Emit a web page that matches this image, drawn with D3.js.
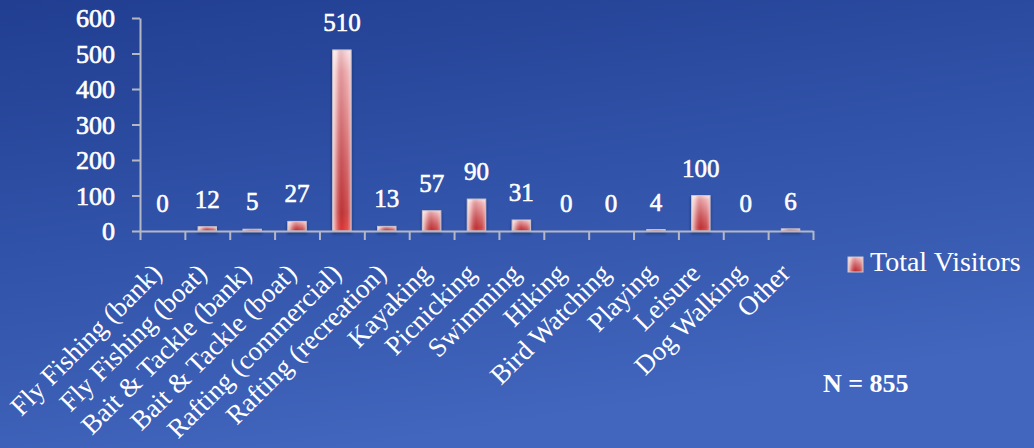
<!DOCTYPE html>
<html>
<head>
<meta charset="utf-8">
<script src="https://cdn.jsdelivr.net/npm/d3@7"></script>
<style>
  html, body { margin: 0; padding: 0; background: #2f4fa3; }
  svg { display: block; }
</style>
</head>
<body>
<svg id="chart" width="1034" height="448"></svg>
<script>
const categories = [
  "Fly Fishing (bank)", "Fly Fishing (boat)", "Bait & Tackle (bank)", "Bait & Tackle (boat)",
  "Rafting (commercial)", "Rafting (recreation)", "Kayaking", "Picnicking", "Swimming",
  "Hiking", "Bird Watching", "Playing", "Leisure", "Dog Walking", "Other"
];
const totalVisitors = [0, 12, 5, 27, 510, 13, 57, 90, 31, 0, 0, 4, 100, 0, 6];
const yTicks = [0, 100, 200, 300, 400, 500, 600];
const seriesName = "Total Visitors";
const noteText = "N = 855";

const W = 1034, H = 448;
const svg = d3.select("#chart");
const defs = svg.append("defs");

// background gradient
const bg = defs.append("linearGradient").attr("id", "bg")
  .attr("x1", "0").attr("y1", "0").attr("x2", "0.35").attr("y2", "1");
bg.append("stop").attr("offset", "0").attr("stop-color", "#213e91");
bg.append("stop").attr("offset", "0.5").attr("stop-color", "#3052a8");
bg.append("stop").attr("offset", "1").attr("stop-color", "#4265bd");
svg.append("rect").attr("width", W).attr("height", H).attr("fill", "url(#bg)");

// bar gradients
const gv = defs.append("linearGradient").attr("id", "barV")
  .attr("x1", "0").attr("y1", "0").attr("x2", "0").attr("y2", "1");
gv.append("stop").attr("offset", "0").attr("stop-color", "#f8dadc");
gv.append("stop").attr("offset", "0.12").attr("stop-color", "#eeaaad");
gv.append("stop").attr("offset", "0.6").attr("stop-color", "#d25e62");
gv.append("stop").attr("offset", "0.9").attr("stop-color", "#c6383a");
gv.append("stop").attr("offset", "1").attr("stop-color", "#e53c3a");
const gh = defs.append("linearGradient").attr("id", "barH")
  .attr("x1", "0").attr("y1", "0").attr("x2", "1").attr("y2", "0");
gh.append("stop").attr("offset", "0").attr("stop-color", "#ffffff").attr("stop-opacity", 0.8);
gh.append("stop").attr("offset", "0.22").attr("stop-color", "#ffffff").attr("stop-opacity", 0.3);
gh.append("stop").attr("offset", "0.5").attr("stop-color", "#7a0d12").attr("stop-opacity", 0.1);
gh.append("stop").attr("offset", "0.8").attr("stop-color", "#ffffff").attr("stop-opacity", 0.1);
gh.append("stop").attr("offset", "1").attr("stop-color", "#ffffff").attr("stop-opacity", 0.45);

const shadow = defs.append("filter").attr("id", "shadow")
  .attr("x", "-50%").attr("y", "-20%").attr("width", "200%").attr("height", "150%");
shadow.append("feDropShadow").attr("dx", 0).attr("dy", 2).attr("stdDeviation", 1.5)
  .attr("flood-color", "#0b1a45").attr("flood-opacity", 0.6);

// scales
const x = d3.scaleBand().domain(categories).range([140, 813]).padding(0);
const y = d3.scaleLinear().domain([0, 600]).range([231, 18]);
const xIdx = d3.scaleLinear().domain([0, categories.length]).range([140, 813]);

const serif = "Liberation Serif";

// y axis
const yAxis = svg.append("g").attr("transform", "translate(140,0)")
  .call(d3.axisLeft(y).tickValues(yTicks).tickSize(8).tickSizeOuter(0).tickPadding(17));
yAxis.attr("font-family", null).attr("font-size", null);
yAxis.select(".domain").attr("stroke", "#b4b8c4").attr("stroke-width", 2);
yAxis.selectAll(".tick line").attr("stroke", "#b4b8c4").attr("stroke-width", 2);
yAxis.selectAll(".tick text")
  .style("font-family", serif).style("font-size", "26px")
  .attr("fill", "#ffffff")
  .attr("stroke", "#ffffff").attr("stroke-width", 0.7)
  .attr("dy", "0.34em");

// bars
const barW = x.bandwidth() * 0.41;
svg.append("g").attr("filter", "url(#shadow)")
  .selectAll("g.bar").data(totalVisitors).join("g").attr("class", "bar")
  .each(function (d, i) {
    const g = d3.select(this);
    const bx = x(categories[i]) + (x.bandwidth() - barW) / 2;
    const by = y(d);
    const bh = y(0) - y(d);
    if (bh <= 0) return;
    g.append("rect").attr("x", bx).attr("y", by).attr("width", barW).attr("height", bh)
      .attr("fill", "url(#barV)");
    g.append("rect").attr("x", bx).attr("y", by).attr("width", barW).attr("height", bh)
      .attr("fill", "url(#barH)").attr("stroke", "#c9c3cc").attr("stroke-width", 1);
  });

// x axis with ticks at band boundaries
const xAxis = svg.append("g").attr("transform", "translate(0,231)")
  .call(d3.axisBottom(xIdx).tickValues(d3.range(categories.length + 1)).tickSize(9).tickSizeOuter(0).tickFormat(""));
xAxis.select(".domain").attr("stroke", "#b4b8c4").attr("stroke-width", 2);
xAxis.selectAll(".tick line").attr("stroke", "#b4b8c4").attr("stroke-width", 2);

// x labels
const xl = svg.append("g").attr("transform", "translate(0,231)")
  .call(d3.axisBottom(x).tickSize(0).tickPadding(0));
xl.attr("font-family", null).attr("font-size", null);
xl.select(".domain").remove();
xl.selectAll(".tick text")
  .style("font-family", serif).style("font-size", "27px")
  .attr("fill", "#ffffff")
  .attr("text-anchor", "end")
  .attr("dy", null).attr("y", null)
  .attr("transform", "translate(1,44) rotate(-45)");

// value labels
svg.append("g").selectAll("text").data(totalVisitors).join("text")
  .attr("x", (d, i) => x(categories[i]) + x.bandwidth() / 2)
  .attr("y", d => y(d) - 19)
  .attr("text-anchor", "middle")
  .style("font-family", serif).style("font-size", "25px")
  .attr("fill", "#ffffff")
  .attr("stroke", "#ffffff").attr("stroke-width", 0.6)
  .text(d => d);

// legend
const lg = svg.append("g").attr("transform", "translate(848,257)");
lg.append("rect").attr("width", 15).attr("height", 15).attr("fill", "url(#barV)");
lg.append("rect").attr("width", 15).attr("height", 15).attr("fill", "url(#barH)")
  .attr("stroke", "#c9c3cc").attr("stroke-width", 1);
lg.append("text").attr("x", 22).attr("y", 14)
  .style("font-family", serif).style("font-size", "28px")
  .attr("fill", "#ffffff")
  .text(seriesName);

// note
svg.append("text").attr("x", 823).attr("y", 392)
  .style("font-family", serif).style("font-size", "26px").style("font-weight", "bold")
  .attr("fill", "#ffffff")
  .text(noteText);
</script>
</body>
</html>
